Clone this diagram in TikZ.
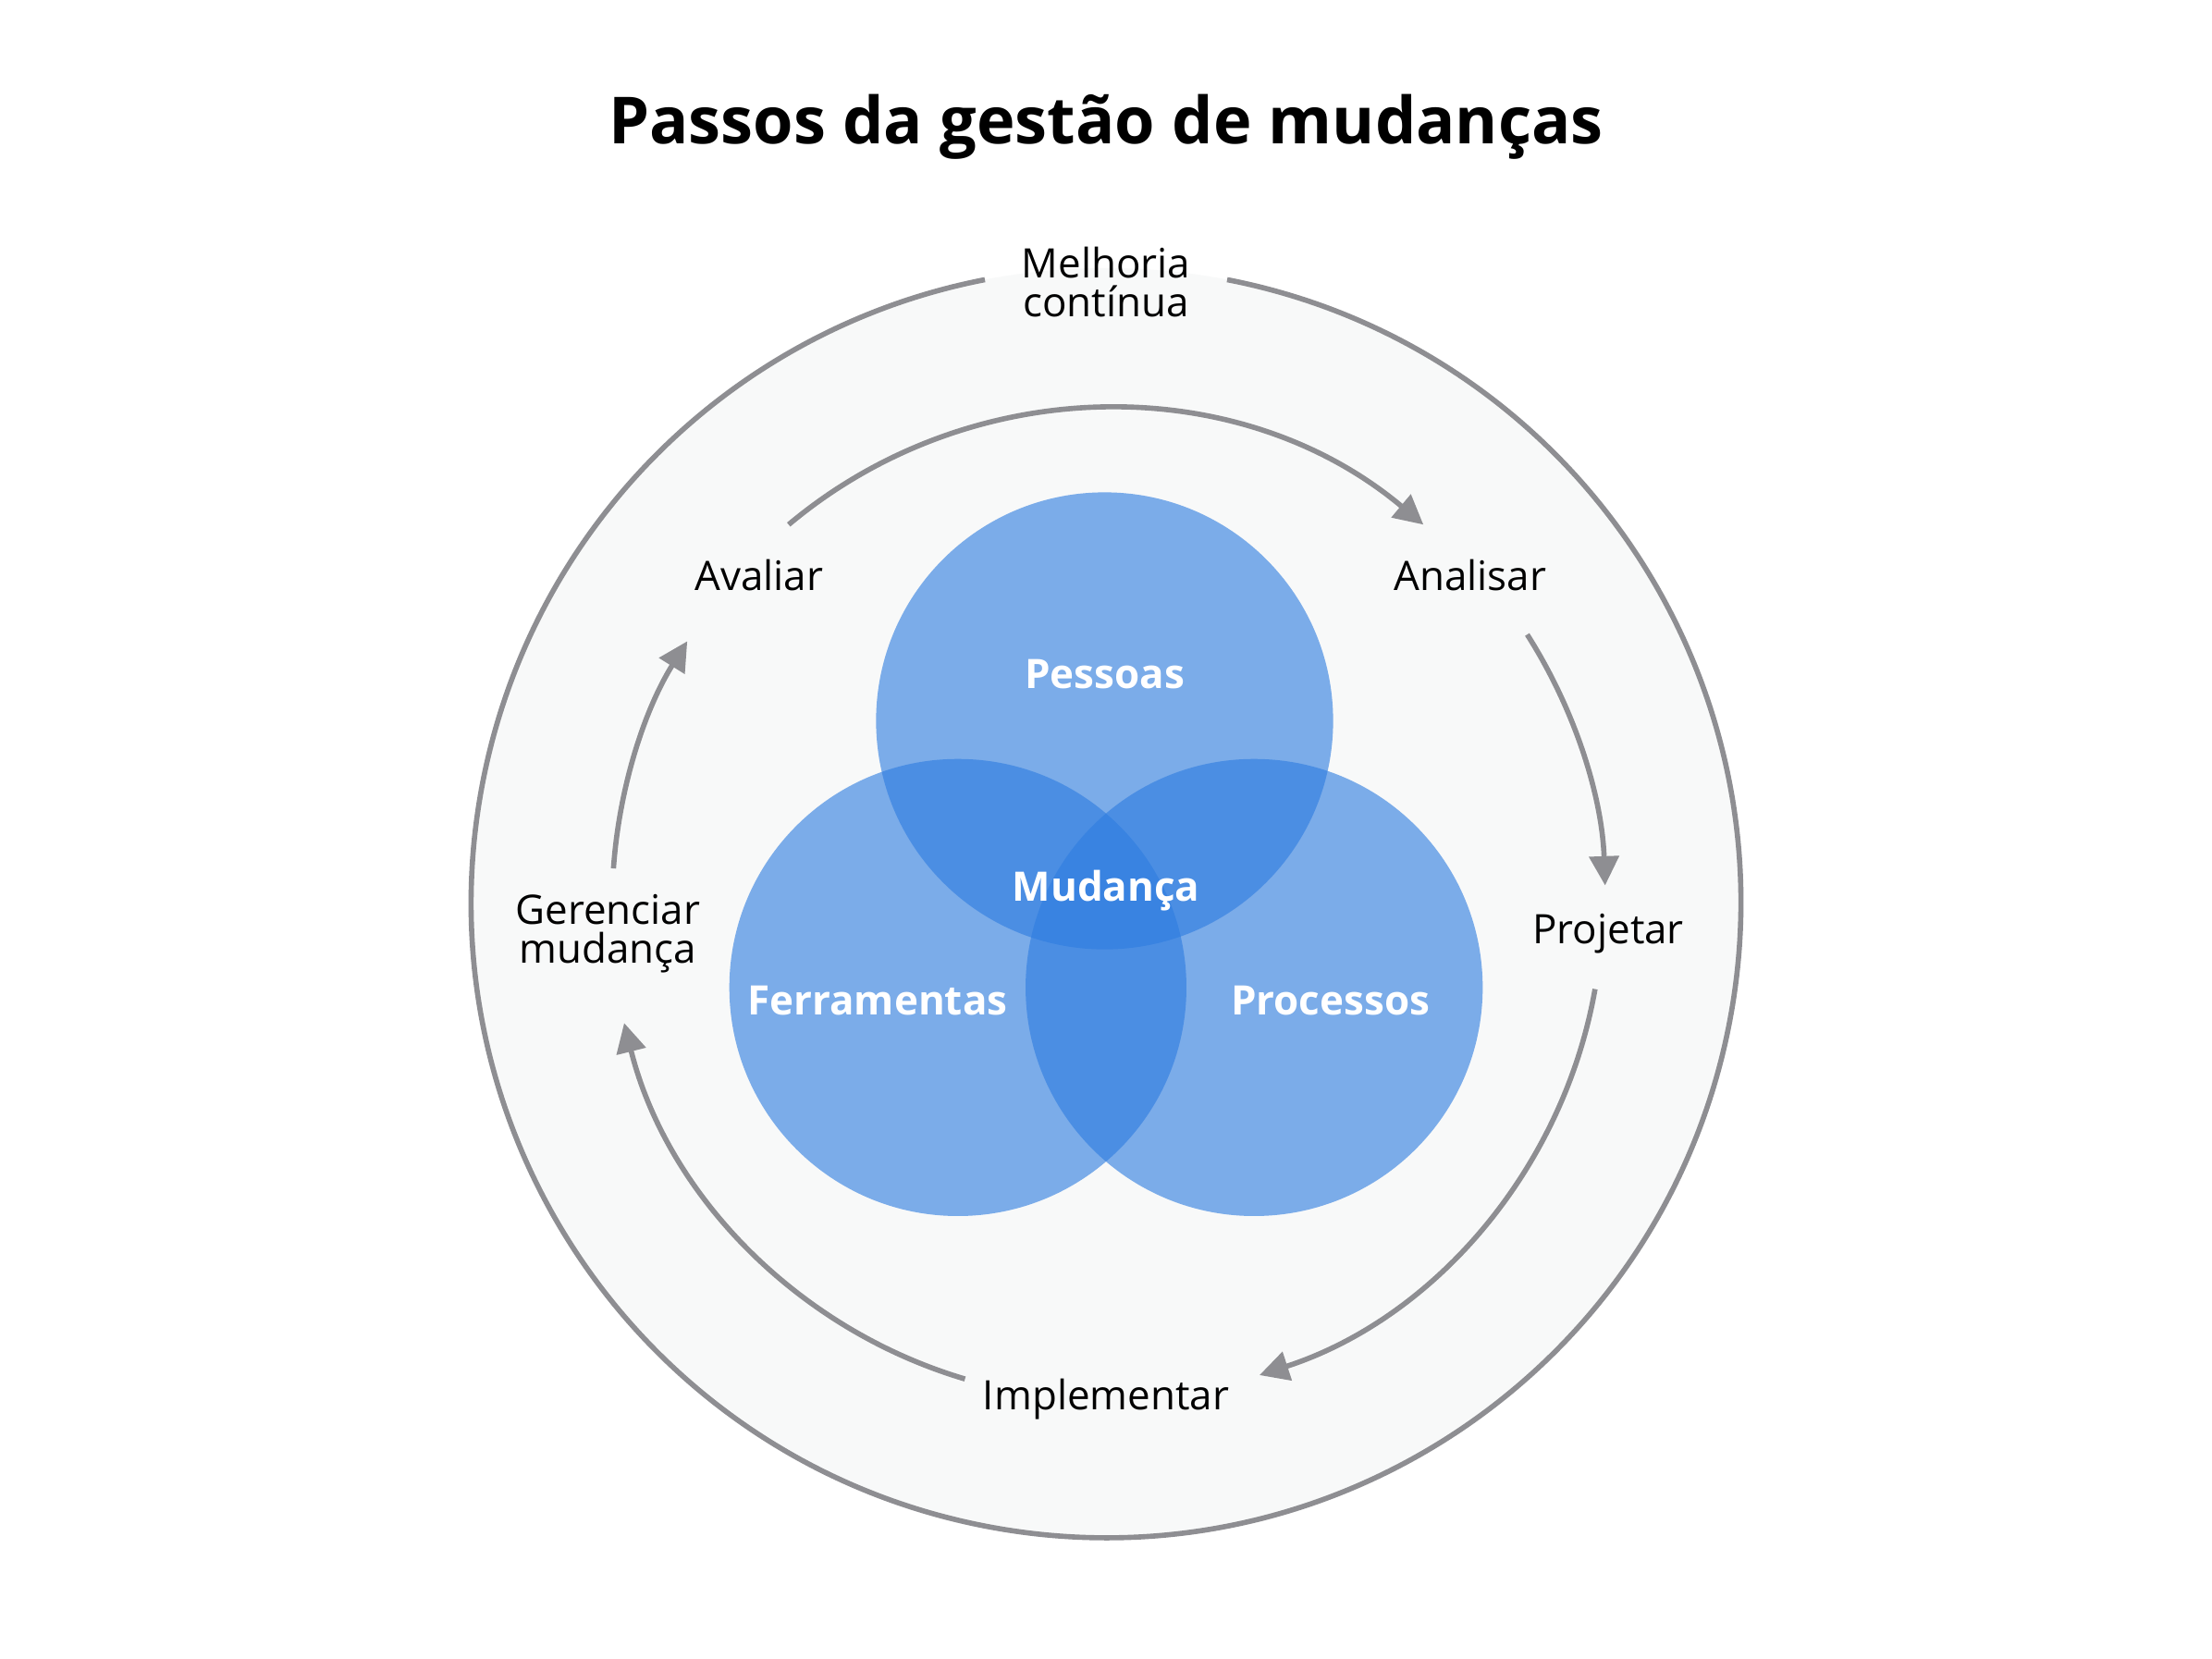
\documentclass[tikz,border=0pt]{standalone}
\usepackage{fontspec}
\setmainfont{Open Sans}
\usetikzlibrary{arrows.meta}
\definecolor{ringgray}{HTML}{8E8E92}
\definecolor{bandfill}{HTML}{F8F9F9}
\definecolor{venn}{HTML}{2F7DE0}
\begin{document}
\begin{tikzpicture}[x=0.015255cm,y=-0.015255cm,
  lbl/.style={font=\fontsize{12.5}{13}\selectfont, text=black, align=center},
  vlbl/.style={font=\bfseries\fontsize{12.5}{13}\selectfont, text=white},
  flow/.style={ringgray, line width=1.6pt, -{Triangle[length=9pt,width=9pt]}},
  vc/.style={fill=venn, fill opacity=0.62}]
\useasboundingbox (0,0) rectangle (1568,1176);
\coordinate (C) at (784,640);
\fill[bandfill] (C) circle[radius=450];
\draw[ringgray, line width=1.6pt] (C) ++(-79:450) arc[start angle=-79, end angle=259, radius=450];
\node[font=\bfseries\fontsize{20}{24}\selectfont] (title) at (784,90) {Passos da gestão de mudanças};
\node[lbl] (mel) at (784,200) {Melhoria\\[-1pt]contínua};
\node[lbl] (ava) at (538,408) {Avaliar};
\node[lbl] (ana) at (1042,408) {Analisar};
\node[lbl] (pro) at (1140,662) {Projetar};
\node[lbl] (imp) at (784,992) {Implementar};
\node[lbl] (ger) at (431,662) {Gerenciar\\[-1pt]mudança};
\draw[flow] (C) ++(-130:350) arc[start angle=-130, end angle=-50, radius=350];
\draw[flow] (C) ++(-32.5:354) arc[start angle=-32.5, end angle=-2, radius=354];
\draw[flow] (C) ++(10:352) arc[start angle=10, end angle=72, radius=352];
\draw[flow] (C) ++(106.5:352) arc[start angle=106.5, end angle=166, radius=352];
\draw[flow] (C) ++(-176:350) arc[start angle=-176, end angle=-148, radius=350];
\path[vc] (783,511) circle[radius=162];
\path[vc] (679,700) circle[radius=162];
\path[vc] (889,700) circle[radius=162];
\node[vlbl] (pes) at (783,478) {Pessoas};
\node[vlbl] (mud) at (784,631) {Mudança};
\node[vlbl] (fer) at (622,709) {Ferramentas};
\node[vlbl] (prc) at (943,709) {Processos};
\end{tikzpicture}
\end{document}
